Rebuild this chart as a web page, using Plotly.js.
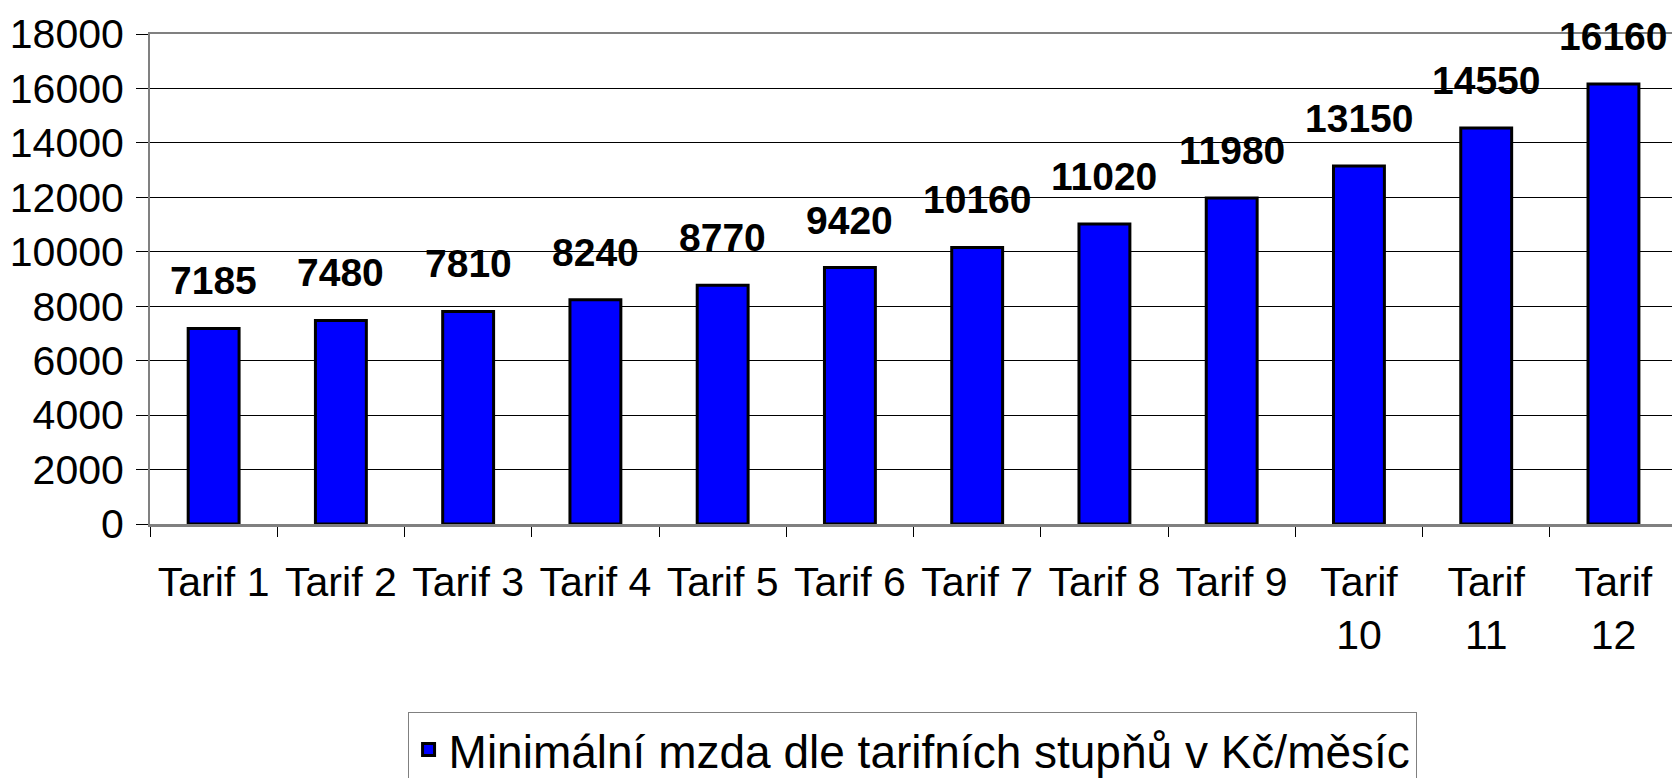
<!DOCTYPE html>
<html>
<head>
<meta charset="utf-8">
<script src="https://cdn.plot.ly/plotly-3.0.1.min.js"></script>
<style>html,body{margin:0;padding:0;background:#fff;}#chart{width:1672px;height:778px;}</style>
</head>
<body>
<div id="chart"></div>
<script>
var categories = ["Tarif 1","Tarif 2","Tarif 3","Tarif 4","Tarif 5","Tarif 6","Tarif 7","Tarif 8","Tarif 9","Tarif<br>10","Tarif<br>11","Tarif<br>12"];
var values = [7185, 7480, 7810, 8240, 8770, 9420, 10160, 11020, 11980, 13150, 14550, 16160];
var seriesName = "Minimální mzda dle tarifních stupňů v Kč/měsíc";
var yTicks = [0, 2000, 4000, 6000, 8000, 10000, 12000, 14000, 16000, 18000];

var font = "Liberation Sans, Arial, sans-serif";

var trace = {
  type: "bar",
  x: categories,
  y: values,
  name: seriesName,
  width: 0.40,
  marker: {color: "#0000FF", line: {color: "#000000", width: 3}},
  hoverinfo: "x+y"
};

var annotations = categories.map(function(c, i) {
  return {
    x: c, y: values[i], xref: "x", yref: "y",
    text: String(values[i]),
    showarrow: false, yanchor: "bottom", yshift: 24,
    font: {family: font, size: 39, color: "#000", weight: "bold"}
  };
});

var layout = {
  width: 1672, height: 778,
  margin: {l: 150, r: 0, t: 34, b: 254, autoexpand: false},
  paper_bgcolor: "#fff", plot_bgcolor: "#fff",
  font: {family: font, size: 41, color: "#000"},
  showlegend: true,
  xaxis: {
    type: "category",
    range: [-0.5, 11.46],
    showline: true, linecolor: "#808080", linewidth: 2.5, mirror: true,
    ticks: "outside", ticklen: 10, tickcolor: "#000", tickwidth: 1,
    tickson: "boundaries",
    showgrid: false,
    tickfont: {family: font, size: 41, color: "#000"},
    ticklabelstandoff: 20
  },
  yaxis: {
    range: [0, 18000],
    tickvals: yTicks,
    ticktext: yTicks.map(String),
    showline: true, linecolor: "#808080", linewidth: 2,
    ticks: "outside", ticklen: 12, tickcolor: "#000", tickwidth: 1,
    showgrid: true, gridcolor: "#000", gridwidth: 1,
    zeroline: false,
    tickfont: {family: font, size: 41, color: "#000"},
    ticklabelstandoff: 4
  },
  legend: {
    orientation: "h",
    x: 0.5007, xanchor: "center",
    y: -0.384, yanchor: "top",
    bordercolor: "#808080", borderwidth: 1,
    bgcolor: "#fff",
    font: {family: font, size: 46, color: "#000"}
  },
  annotations: annotations
};

Plotly.newPlot("chart", [trace], layout, {displayModeBar: false, staticPlot: true});
</script>
</body>
</html>
